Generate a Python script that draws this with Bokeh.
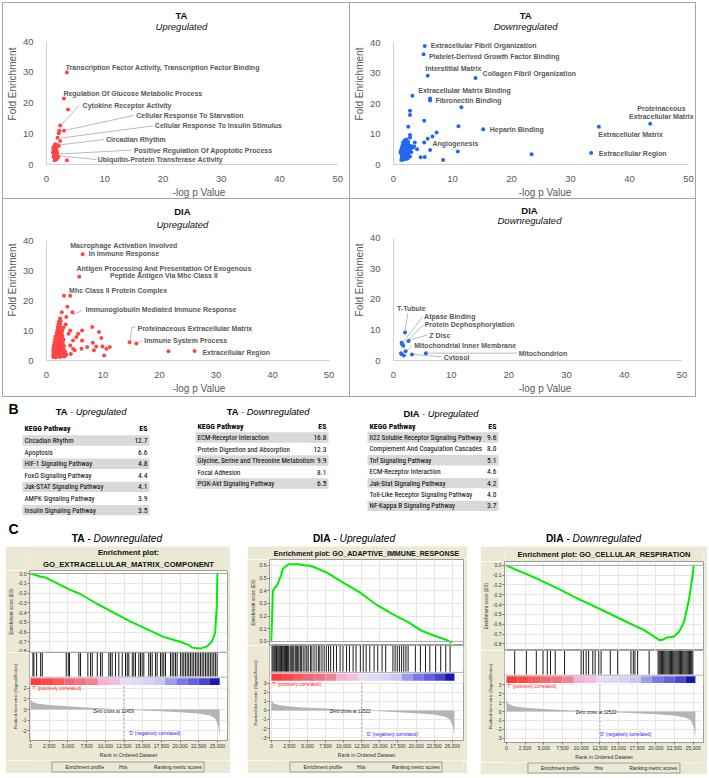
from bokeh.plotting import figure
from bokeh.layouts import column, row
from bokeh.models import (Range1d, FixedTicker, Span, Legend, LegendItem,
                          NumeralTickFormatter, Label, Spacer)
from bokeh.core.properties import value
from bokeh.embed import file_html
from bokeh.resources import INLINE

# ---------------------------------------------------------------- data
# Panel A: GO term scatter (-log p value, fold enrichment)
ta_up_pts = [(3.5, 30.0), (3.0, 21.5), (3.7, 17.9), (2.35, 12.7), (2.2, 11.0), (2.1, 10.2), (3.0, 11.0),
             (1.9, 8.7), (2.35, 7.7), (1.5, 6.6), (1.8, 6.4), (2.1, 6.0), (1.2, 5.6), (1.6, 5.2), (1.7, 4.8),
             (1.5, 4.4), (1.1, 4.0), (1.6, 3.8), (1.8, 3.5), (1.4, 3.3), (1.5, 3.0), (1.7, 2.8), (1.2, 2.6),
             (1.6, 2.4), (1.9, 2.2), (1.4, 2.0), (1.5, 1.8), (1.7, 1.6), (1.4, 1.4), (3.5, 1.4), (1.6, 5.8),
             (1.8, 4.1), (1.3, 3.1), (2.0, 2.5), (1.2, 5.0), (1.4, 6.2)]

ta_down_pts = [(5.3, 38.9), (5.1, 36.2), (5.8, 29.2), (13.9, 28.4), (3.2, 22.6), (6.2, 21.7), (6.2, 21.0),
               (2.8, 17.7), (2.8, 16.3), (11.5, 18.8), (5.2, 14.4), (2.5, 12.4), (11.0, 12.6), (15.2, 11.6),
               (34.8, 12.4), (43.5, 13.4), (7.3, 10.5), (6.6, 9.2), (5.8, 8.5), (5.2, 7.2), (3.6, 7.2),
               (2.8, 9.7), (2.8, 8.9), (4.0, 5.0), (6.2, 4.8), (10.9, 4.3), (23.4, 3.4), (33.5, 3.8),
               (4.6, 2.4), (5.3, 2.5), (8.4, 1.5),
               (1.2, 4.2), (1.3, 3.6), (1.4, 2.8), (1.5, 2.0), (1.6, 1.6), (1.7, 2.4), (1.8, 3.0), (1.9, 2.2),
               (2.0, 1.8), (2.1, 2.6), (2.2, 3.4), (2.3, 2.9), (2.4, 2.3), (2.5, 3.1), (1.3, 4.8), (1.5, 4.4),
               (1.7, 3.8), (1.9, 4.0), (2.1, 4.6), (2.3, 4.2), (2.5, 3.8), (2.7, 4.4), (3.0, 4.0), (1.4, 5.4),
               (1.6, 5.8), (1.8, 5.2), (2.0, 5.6), (2.2, 5.0), (2.4, 5.4), (2.6, 5.8), (2.9, 5.2), (3.3, 5.6),
               (1.2, 4.0), (1.5, 6.2), (1.8, 6.6), (2.1, 6.4), (2.4, 6.8), (2.7, 6.2), (3.1, 6.0), (1.6, 7.2),
               (1.9, 7.6), (2.2, 7.0), (2.5, 7.4), (1.4, 3.2), (1.7, 3.6), (2.0, 3.4), (2.3, 3.8), (1.5, 2.6),
               (1.8, 2.1), (2.1, 1.9), (1.3, 1.5), (1.6, 1.8), (2.0, 2.8), (2.4, 2.0), (2.8, 2.6), (1.9, 8.0),
               (2.2, 8.2), (3.5, 5.9)]

dia_up_pts = [(6.4, 35.4), (5.8, 27.9), (3.1, 21.6), (4.2, 21.6), (3.7, 17.9), (2.7, 16.1), (4.6, 16.1),
              (3.5, 14.5), (8.1, 11.2), (6.3, 10.0), (9.3, 9.5), (9.7, 7.5), (5.3, 7.8), (4.2, 10.0),
              (14.7, 6.1), (15.9, 5.7), (6.3, 6.7), (8.2, 5.9), (7.2, 4.5), (8.8, 4.7), (9.9, 4.7),
              (11.2, 4.5), (10.6, 3.9), (8.4, 3.4), (6.2, 3.9), (10.2, 1.7), (21.6, 3.1), (26.2, 3.2),
              (4.3, 2.2), (3.5, 1.9), (4.7, 3.9), (3.9, 8.9), (4.7, 6.7), (4.2, 5.0), (5.0, 3.4), (5.6, 8.9),
              (3.4, 12.0), (3.0, 11.0),
              (1.2, 1.2), (1.6, 1.1), (2.0, 1.3), (2.4, 1.2), (2.8, 1.4), (3.2, 1.3),
              (1.2, 2.0), (1.5, 2.1), (1.8, 1.9), (2.1, 2.2), (2.4, 2.0), (2.7, 2.1), (3.0, 2.3), (3.4, 2.0),
              (1.2, 3.0), (1.5, 2.9), (1.8, 3.1), (2.1, 3.0), (2.4, 3.2), (2.7, 2.9), (3.0, 3.1), (3.3, 3.0),
              (1.2, 4.0), (1.5, 4.1), (1.8, 3.9), (2.1, 4.0), (2.4, 4.2), (2.7, 4.0), (3.0, 3.9),
              (1.3, 5.0), (1.6, 5.1), (1.9, 4.9), (2.2, 5.0), (2.5, 5.2), (2.8, 5.0), (3.1, 4.8),
              (1.4, 6.0), (1.7, 6.1), (2.0, 5.9), (2.3, 6.0), (2.6, 6.2), (2.9, 6.0),
              (1.5, 7.0), (1.8, 7.1), (2.1, 6.9), (2.4, 7.0), (2.7, 7.2), (3.0, 7.0),
              (1.6, 8.0), (1.9, 8.1), (2.2, 7.9), (2.5, 8.0), (2.8, 8.2),
              (1.8, 9.0), (2.1, 9.1), (2.4, 8.9), (2.7, 9.0),
              (1.9, 10.0), (2.2, 10.1), (2.5, 9.9), (2.8, 10.0),
              (2.0, 11.0), (2.3, 11.1), (2.6, 10.9), (2.1, 12.0), (2.4, 12.1),
              (2.2, 13.0), (2.5, 13.1), (2.4, 14.0)]

dia_down_pts = [(2.0, 9.2), (1.4, 5.8), (1.5, 5.3), (1.7, 4.8), (2.6, 6.4), (2.1, 3.0), (1.3, 2.4),
                (1.4, 2.1), (1.8, 1.6), (3.2, 2.0), (5.6, 2.4)]

# GO term labels (text, -log p, fold enrichment) and leader lines
ta_up_labels = [("Transcription Factor Activity, Transcription Factor Binding", 3.3, 31.7, "left"),
                ("Regulation Of Glucose Metabolic Process", 2.9, 23.0, "left"),
                ("Cytokine Receptor Activity", 6.2, 19.2, "left"),
                ("Cellular Response To Starvation", 15.4, 16.0, "left"),
                ("Cellular Response To Insulin Stimulus", 18.6, 12.6, "left"),
                ("Circadian Rhythm", 10.2, 8.2, "left"),
                ("Positive Regulation Of Apoptotic Process", 15.0, 4.6, "left"),
                ("Ubiquitin-Protein Transferase Activity", 8.8, 1.5, "left")]
ta_up_leaders = [(5.6, 19.3, 2.4, 12.6), (15.0, 16.0, 2.6, 10.9), (18.3, 12.6, 2.35, 8.6),
                 (9.8, 8.1, 2.3, 6.4), (14.7, 4.7, 1.9, 3.4), (8.6, 1.6, 1.9, 2.9)]

ta_down_labels = [("Extracellular Fibril Organization", 6.3, 39.0, "left"),
                  ("Platelet-Derived Growth Factor Binding", 6.0, 35.5, "left"),
                  ("Interstitial Matrix", 5.4, 31.5, "left"),
                  ("Collagen Fibril Organization", 15.1, 29.9, "left"),
                  ("Extracellular Matrix Binding", 4.2, 24.3, "left"),
                  ("Fibronectin Binding", 7.1, 21.0, "left"),
                  ("Proteinaceous", 45.4, 18.3, "center"),
                  ("Extracellular Matrix", 45.4, 15.7, "center"),
                  ("Heparin Binding", 16.3, 11.6, "left"),
                  ("Extracellular Matrix", 34.7, 9.9, "left"),
                  ("Angiogenesis", 6.6, 6.9, "left"),
                  ("Extracellular Region", 34.8, 3.5, "left")]
ta_down_leaders = []

dia_up_labels = [("Macrophage Activation Involved", 13.7, 38.4, "center"),
                 ("In Immune Response", 13.7, 35.6, "center"),
                 ("Antigen Processing And Presentation Of Exogenous", 20.8, 30.8, "center"),
                 ("Peptide Antigen Via Mhc Class II", 20.8, 28.2, "center"),
                 ("Mhc Class II Protein Complex", 4.0, 23.4, "left"),
                 ("Immunoglobulin Mediated Immune Response", 6.9, 16.9, "left"),
                 ("Proteinaceous Extracellular Matrix", 16.1, 10.7, "left"),
                 ("Immune System Process", 17.3, 6.6, "left"),
                 ("Extracellular Region", 27.6, 2.8, "left")]
dia_up_leaders = [(6.4, 16.8, 4.8, 15.3), (15.8, 11.2, 15.1, 11.0), (15.1, 11.0, 14.8, 6.8),
                  (17.0, 6.6, 16.2, 6.0)]

dia_down_labels = [("T-Tubule", 0.6, 17.0, "left"),
                   ("Atpase Binding", 5.3, 14.3, "left"),
                   ("Protein Dephosphorylation", 5.4, 11.7, "left"),
                   ("Z Disc", 6.2, 8.3, "left"),
                   ("Mitochondrial Inner Membrane", 3.6, 4.8, "left"),
                   ("Mitochondrion", 21.7, 2.4, "left"),
                   ("Cytosol", 8.7, 1.1, "left")]
dia_down_leaders = [(2.5, 15.6, 2.0, 9.6), (5.0, 14.3, 1.7, 6.0), (5.2, 11.7, 1.9, 5.4), (5.8, 8.3, 2.6, 6.6),
                    (3.2, 4.8, 2.2, 3.2), (21.4, 2.4, 5.8, 2.4), (8.4, 1.2, 3.4, 2.0)]

x_ticks_A = [0, 10, 20, 30, 40, 50]
y_ticks_A = [0, 10, 20, 30, 40]

# Panel B: KEGG tables
t1_names = ["Circadian Rhythm", "Apoptosis", "HIF-1 Signaling Pathway", "FoxO Signaling Pathway",
            "Jak-STAT Signaling Pathway", "AMPK Signaling Pathway", "Insulin Signaling Pathway"]
t1_es = [12.7, 6.6, 4.8, 4.4, 4.1, 3.9, 3.5]
t2_names = ["ECM-Receptor Interaction", "Protein Digestion and Absorption",
            "Glycine, Serine and Threonine Metabolism", "Focal Adhesion", "PI3K-Akt Signaling Pathway"]
t2_es = [16.8, 12.3, 9.9, 8.1, 6.5]
t3_names = ["Il22 Soluble Receptor Signaling Pathway", "Complement And Coagulation Cascades",
            "Tnf Signaling Pathway", "ECM-Receptor Interaction", "Jak-Stat Signaling Pathway",
            "Toll-Like Receptor Signaling Pathway", "NF-Kappa B Signaling Pathway"]
t3_es = [9.6, 8.0, 5.1, 4.6, 4.2, 4.0, 3.7]

# Panel C: GSEA enrichment plots
rank_ticks = [0, 2500, 5000, 7500, 10000, 12500, 15000, 17500, 20000, 22500, 25000]

ecm_es_rank = [0, 1290, 1960, 3300, 5080, 6640, 8870, 11100, 13320, 15550, 17780, 20010, 21350, 21570,
               22680, 22900, 23570, 24240, 24690, 24910, 25000]
ecm_es = [0.0, -0.03, -0.04, -0.09, -0.16, -0.21, -0.31, -0.40, -0.49, -0.57, -0.65, -0.70, -0.74, -0.76,
          -0.77, -0.765, -0.75, -0.70, -0.61, -0.35, 0.0]
ecm_hits = [310, 440, 800, 1340, 1560, 4770, 5040, 5210, 6460, 6680, 7660, 8020, 8250, 8920, 9360, 9590,
            10470, 10700, 10920, 11360, 11800, 12260, 12700, 12930, 13140, 13600, 13810, 14040, 14480,
            14710, 14930, 15150, 15810, 16040, 16270, 16710, 16930, 17380, 17600, 17820, 18050, 18720,
            18940, 19160, 19390, 19610, 20050, 20280, 20500, 20720, 20950, 21160, 21390, 21610, 21830,
            22060, 22280, 22500, 22730, 22950, 23170, 23400, 23620, 23840, 24060, 24290, 24510, 24730, 24960]
ecm_met_rank = [0, 50, 300, 1000, 2500, 5000, 7500, 10000, 12459, 15000, 17500, 20000, 22500, 24000,
                24700, 25100, 25300]
ecm_met = [1.05, 0.9, 0.7, 0.55, 0.42, 0.3, 0.2, 0.1, 0.0, -0.08, -0.16, -0.25, -0.38, -0.55, -0.85, -1.5, -2.5]

air_es_rank = [0, 90, 220, 450, 890, 1120, 1340, 1560, 1920, 2460, 2900, 3800, 4690, 5130, 5800, 7810,
               10040, 12280, 14510, 16740, 18970, 20760, 22540, 24330, 24780, 25000]
air_es = [0.0, 0.16, 0.40, 0.42, 0.45, 0.49, 0.52, 0.57, 0.59, 0.61, 0.61, 0.61, 0.60, 0.60, 0.59, 0.54,
          0.46, 0.385, 0.29, 0.215, 0.15, 0.084, 0.045, 0.01, -0.008, 0.005]
air_hits = [100, 250, 400, 550, 700, 800, 950, 1100, 1250, 1400, 1500, 1650, 1800, 1950, 2100, 2250, 2400,
            2600, 2750, 2900, 3100, 3300, 3450, 3600, 3800, 4000, 4150, 4400, 4650, 4900, 5100, 5400, 5600,
            5900, 6200, 6500, 6700, 7000, 7300, 7600, 7900, 8200, 8600, 9000, 9500, 9900, 10400, 10800,
            11300, 11700, 12300, 12700, 13100, 13600, 14200, 14700, 15300, 15800, 16800, 17100, 17400,
            17700, 18000, 18300, 18600, 18900, 19900, 20600, 21300, 21900, 22700, 23400, 24100, 24700]
air_met_rank = [0, 50, 300, 1000, 2500, 5000, 7500, 10000, 12522, 15000, 17500, 20000, 22500, 24000,
                24700, 25100, 25300]
air_met = [1.3, 1.05, 0.8, 0.6, 0.42, 0.3, 0.2, 0.1, 0.0, -0.1, -0.2, -0.3, -0.45, -0.7, -1.0, -1.8, -2.8]

resp_es_rank = [0, 1110, 3330, 6440, 9550, 12660, 15770, 18430, 20430, 20870, 21540, 22430, 23090, 23760,
                24420, 24870, 25090]
resp_es = [0.0, -0.04, -0.11, -0.22, -0.34, -0.45, -0.565, -0.66, -0.76, -0.76, -0.735, -0.725, -0.68,
           -0.58, -0.355, -0.13, 0.0]
resp_hits = [1100, 2670, 4000, 4900, 5470, 5900, 6530, 7780, 10000, 10300, 10670, 11000, 11560, 11870,
             12360, 12670, 13900, 14900, 16670, 16980, 17200, 17560, 19100, 20300, 20450, 20600, 20750,
             20900, 21050, 21200, 21350, 21500, 21650, 21800, 21950, 22100, 22250, 22400, 22550, 22700,
             22850, 23000, 23150, 23300, 23450, 23600, 23750, 23900, 24050, 24200, 24350, 24500, 24650,
             24800, 24950]
resp_met_rank = [0, 50, 300, 1000, 2500, 5000, 7500, 10000, 12522, 15000, 17500, 20000, 22500, 24000,
                 24700, 25100, 25300]
resp_met = [1.5, 1.15, 0.85, 0.6, 0.42, 0.28, 0.18, 0.09, 0.0, -0.1, -0.2, -0.3, -0.45, -0.7, -1.0, -1.8, -2.9]

band_edges = [0, 1500, 3000, 4500, 6000, 7500, 9000, 10500, 12000, 13500, 15000, 16500, 18000, 19500,
              21000, 22500, 24000, 25300]
band_colors = ["#ff3c3c", "#ff4848", "#ff5858", "#f26a7a", "#f27484", "#f28292", "#f3b0d6", "#f2bede",
               "#e4dcf2", "#dcdaf4", "#d4d4f4", "#c8c8f2", "#9c9cee", "#7878e8", "#6060e0", "#4646d0",
               "#1818b0"]

# ---------------------------------------------------------------- styling
S = 1.0


def P(v):
    return int(round(v * S))


def F(v):
    return "%.2fpx" % (v * S)


SANS = "Liberation Sans"
NARROW = "Roboto Condensed"
GREY = "#595959"
RED = "#ff4646"
BLUE = "#2468f0"
BEIGE = "#ebe8d4"
BORDER = "1px solid #a6a6a6"
NB = "\u00a0"


def blank(p, bg="white"):
    p.grid.visible = False
    p.outline_line_color = None
    p.background_fill_color = bg
    p.border_fill_color = bg


# ---------------------------------------------------------------- panel A
def quadrant(q):
    w, h, x0, x50, y0, y40 = q["w"], q["h"], q["x0"], q["x50"], q["y0"], q["y40"]
    xmax = 50.0 * (w - x0) / (x50 - x0)
    ymax = 40.0 * y0 / (y0 - y40)
    p = figure(width=P(w), height=P(h), x_range=Range1d(0, xmax), y_range=Range1d(0, ymax),
               output_backend="svg", toolbar_location=None,
               min_border_left=P(x0), min_border_right=0, min_border_top=0,
               min_border_bottom=P(h - y0), styles=q["css"])
    blank(p)
    for ax, lab, ticks, bnd, so in ((p.xaxis[0], "-log p Value", x_ticks_A, (0, 50), 5),
                                     (p.yaxis[0], "Fold Enrichment", y_ticks_A, (0, 40), 7)):
        ax.ticker = FixedTicker(ticks=ticks)
        ax.bounds = bnd
        ax.axis_line_color = "#d0d0d0"
        ax.major_tick_line_color = None
        ax.minor_tick_line_color = None
        ax.major_label_text_font = SANS
        ax.major_label_text_font_size = F(9.5)
        ax.major_label_text_color = GREY
        ax.major_label_standoff = P(so)
        ax.axis_label = lab
        ax.axis_label_text_font = SANS
        ax.axis_label_text_font_size = F(10)
        ax.axis_label_text_font_style = "normal"
        ax.axis_label_text_color = GREY
        ax.axis_label_standoff = 2
    if q["leaders"]:
        p.segment(x0=[l[0] for l in q["leaders"]], y0=[l[1] for l in q["leaders"]],
                  x1=[l[2] for l in q["leaders"]], y1=[l[3] for l in q["leaders"]],
                  line_color="#a9a9a9", line_width=0.8)
    pts = q["pts"]
    p.scatter(x=[a for a, b in pts], y=[b for a, b in pts], size=P(4.2), fill_color=q["color"],
              line_color=None)
    for align in ("left", "center"):
        sel = [l for l in q["labels"] if l[3] == align]
        if sel:
            p.text(x=[l[1] for l in sel], y=[l[2] for l in sel], text=[l[0] for l in sel],
                   text_font=value(SANS), text_font_size=F(7.0), text_font_style="bold",
                   text_color=GREY, text_align=align, text_baseline="middle")
    xt = 50.0 * (q["tc"] - x0) / (x50 - x0)
    for txt_, ty, style in ((q["head"], q["ty1"], "bold"), (q["sub"], q["ty2"], "italic")):
        p.add_layout(Label(x=xt, y=40.0 * (y0 - ty) / (y0 - y40), text=txt_, text_align="center",
                           text_baseline="middle", text_font=SANS, text_font_size=F(9.5),
                           text_font_style=style, text_color="#111111"))
    return p


tl = quadrant(dict(w=348, h=197, x0=36, x50=334, y0=164, y40=39, tc=174, ty1=12, ty2=23,
                   head="TA", sub="Upregulated", pts=ta_up_pts, color=RED, labels=ta_up_labels,
                   leaders=ta_up_leaders, css={"border": BORDER}))
tr = quadrant(dict(w=346, h=197, x0=41, x50=338, y0=164, y40=40, tc=174, ty1=12, ty2=23,
                   head="TA", sub="Downregulated", pts=ta_down_pts, color=BLUE, labels=ta_down_labels,
                   leaders=ta_down_leaders,
                   css={"border-top": BORDER, "border-right": BORDER, "border-bottom": BORDER}))
bl = quadrant(dict(w=348, h=198, x0=36, x50=325, y0=161, y40=41, tc=175, ty1=12, ty2=25,
                   head="DIA", sub="Upregulated", pts=dia_up_pts, color=RED, labels=dia_up_labels,
                   leaders=dia_up_leaders,
                   css={"border-left": BORDER, "border-right": BORDER, "border-bottom": BORDER}))
br = quadrant(dict(w=346, h=198, x0=34, x50=331, y0=166, y40=40, tc=174, ty1=11, ty2=22,
                   head="DIA", sub="Downregulated", pts=dia_down_pts, color=BLUE, labels=dia_down_labels,
                   leaders=dia_down_leaders,
                   css={"border-right": BORDER, "border-bottom": BORDER}))

# ---------------------------------------------------------------- panel B (+ C headings)
bc = figure(width=P(709), height=P(149), x_range=Range1d(0, 709), y_range=Range1d(549, 400),
            output_backend="svg", toolbar_location=None, min_border=0,
            x_axis_location=None, y_axis_location=None)
blank(bc)


def txt(fig, x, y, s, size, style="normal", align="left", font=SANS, color="#111111"):
    fig.text(x=[x], y=[y], text=[s], text_font=value(font), text_font_size=F(size),
             text_font_style=style, text_align=align, text_baseline="middle", text_color=color)


def heading(fig, split, y, bold, rest, size):
    txt(fig, split, y, bold, size, "bold", "right", color="#000000")
    txt(fig, split, y, NB + "-" + NB + rest, size, "italic", "left", color="#000000")


def table(names, es, x0, x1, hy, ry, step, nx, ex):
    ys = [ry + i * step for i in range(len(names))]
    bands = ys[0::2]
    bc.quad(left=x0, right=x1, top=[y - 5.2 for y in bands], bottom=[y + 5.2 for y in bands],
            fill_color="#d9d9d9", line_color=None)
    txt(bc, nx, hy, "KEGG Pathway", 7.9, "bold", font=NARROW, color="#000000")
    txt(bc, ex, hy, "ES", 7.9, "bold", "right", font=NARROW, color="#000000")
    bc.text(x=nx, y=ys, text=names, text_font=value(NARROW), text_font_size=F(7.1),
            text_align="left", text_baseline="middle", text_color="#000000")
    bc.text(x=ex, y=ys, text=["%.1f" % v for v in es], text_font=value(NARROW), text_font_size=F(7.5),
            text_align="right", text_baseline="middle", text_color="#000000")


txt(bc, 8, 411, "B", 14, "bold", color="#000000")
heading(bc, 67, 414, "TA", "Upregulated", 9.3)
heading(bc, 238, 414, "TA", "Downregulated", 9.3)
heading(bc, 419, 416, "DIA", "Upregulated", 9.3)
table(t1_names, t1_es, 22, 149, 431, 443, 11.6, 24, 147)
table(t2_names, t2_es, 195, 328, 429, 440, 11.5, 197, 326)
table(t3_names, t3_es, 367, 498, 429, 440, 11.4, 369, 496)
txt(bc, 8, 531, "C", 14, "bold", color="#000000")
heading(bc, 84, 541, "TA", "Downregulated", 10.2)
heading(bc, 330, 541, "DIA", "Upregulated", 10.2)
heading(bc, 563, 541, "DIA", "Downregulated", 10.2)


# ---------------------------------------------------------------- panel C
def small_axis(ax, label, ticks, fmt, lab_size):
    ax.ticker = FixedTicker(ticks=ticks)
    ax.formatter = NumeralTickFormatter(format=fmt)
    ax.axis_line_color = "#9a9a9a"
    ax.major_tick_line_color = "#777777"
    ax.major_tick_out = 2
    ax.major_tick_in = 0
    ax.minor_tick_line_color = None
    ax.major_label_text_font = SANS
    ax.major_label_text_font_size = F(5)
    ax.major_label_text_color = "#333333"
    ax.major_label_standoff = 1
    ax.axis_label = label
    ax.axis_label_text_font = SANS
    ax.axis_label_text_font_size = F(lab_size)
    ax.axis_label_text_font_style = "normal"
    ax.axis_label_text_color = "#333333"
    ax.axis_label_standoff = 1


def gsea(c):
    w = c["w"]
    L, R = P(c["left"]), P(c["right"])
    xr = Range1d(*c["xr"])
    common = dict(output_backend="svg", toolbar_location=None)

    # title strip
    tf = figure(width=P(w), height=P(c["title_h"]), x_range=Range1d(0, w),
                y_range=Range1d(c["title_h"], 0), min_border=0,
                x_axis_location=None, y_axis_location=None, **common)
    blank(tf, BEIGE)
    for line, ty in zip(c["title"], c["title_ys"]):
        tf.add_layout(Label(x=w / 2.0, y=ty, text=line, text_align="center", text_baseline="middle",
                            text_font=SANS, text_font_style="bold", text_font_size=F(c["title_fs"]),
                            text_color="#111111"))

    # running enrichment score
    es = figure(width=P(w), height=P(c["es_h"]), x_range=xr, y_range=Range1d(*c["es_rng"]),
                min_border_left=L, min_border_right=R, min_border_top=0, min_border_bottom=0,
                x_axis_location=None, **common)
    es.border_fill_color = BEIGE
    es.outline_line_color = "#9a9a9a"
    es.xgrid.ticker = FixedTicker(ticks=rank_ticks)
    es.ygrid.ticker = FixedTicker(ticks=c["es_ticks"])
    es.grid.grid_line_color = "#e6e6e6"
    small_axis(es.yaxis[0], "Enrichment score (ES)", c["es_ticks"], "0.0", 4.6)
    es.add_layout(Span(location=0, dimension="width", line_color="#a8a8a8", line_width=1))
    es.line(x=c["es_rank"], y=c["es"], line_color="#00ee00", line_width=2)

    # hits + colour band (top strip) and ranked list metric (lower part) in one frame
    Hh = c["mid_h"]
    Hm = c["met_h"] - 17
    lo, hi = c["met_rng"]
    top = hi + Hh * (hi - lo) / Hm
    mf = figure(width=P(w), height=P(Hh + c["met_h"]), x_range=xr, y_range=Range1d(lo, top),
                min_border_left=L, min_border_right=R, min_border_top=0,
                min_border_bottom=P(17), **common)
    mf.extra_y_ranges = {"hb": Range1d(-float(Hm) / Hh, 1.0)}
    mf.border_fill_color = BEIGE
    mf.outline_line_color = "#9a9a9a"
    mf.xgrid.ticker = FixedTicker(ticks=rank_ticks)
    mf.ygrid.ticker = FixedTicker(ticks=c["met_ticks"])
    mf.grid.grid_line_color = "#e6e6e6"
    small_axis(mf.xaxis[0], "Rank in Ordered Dataset", rank_ticks, "0,0", 5.2)
    small_axis(mf.yaxis[0], "Ranked list metric (Signal2Noise)", c["met_ticks"], "0", 4.4)
    mf.yaxis[0].bounds = (lo, hi)
    mf.quad(left=c["xr"][0], right=c["xr"][1], bottom=0.0, top=1.0, y_range_name="hb",
            fill_color="white", line_color=None)
    mf.segment(x0=c["hits"], y0=0.29, x1=c["hits"], y1=1.0, y_range_name="hb",
               line_color="#000000", line_width=1, line_alpha=0.9)
    mf.quad(left=band_edges[:-1], right=band_edges[1:], bottom=0.04, top=0.24, y_range_name="hb",
            fill_color=band_colors, line_color=None)
    mf.segment(x0=[c["xr"][0]], y0=[0.27], x1=[c["xr"][1]], y1=[0.27], y_range_name="hb",
               line_color="#b0b0b0", line_width=1)
    mf.segment(x0=[c["xr"][0]], y0=[1.0], x1=[c["xr"][1]], y1=[1.0], y_range_name="hb",
               line_color="#9a9a9a", line_width=1)
    mf.varea(x=c["met_rank"], y1=0, y2=c["met"], fill_color="#b4b4b4")
    mf.segment(x0=[c["zero"]], y0=[lo], x1=[c["zero"]], y1=[hi], line_color="#a0a0a0",
               line_dash="2 2", line_width=1)
    mf.add_layout(Label(x=c["xr"][0] + 300, y=hi, text="'T' (positively correlated)",
                        text_baseline="top", text_font=SANS, text_font_size=F(4.6), text_color="#ff2020"))
    mf.add_layout(Label(x=c["zero_lab"][0], y=c["zero_lab"][1], text="Zero cross at %d" % c["zero"],
                        text_align="center", text_baseline="middle", text_font=SANS,
                        text_font_size=F(4.6), text_color="#222222"))
    mf.add_layout(Label(x=c["d_lab"][0], y=c["d_lab"][1], text="'D' (negatively correlated)",
                        text_baseline="middle", text_font=SANS, text_font_size=F(4.6),
                        text_color="#2020ff"))

    # legend strip
    lf = figure(width=P(w), height=P(c["leg_h"]), x_range=Range1d(0, 1), y_range=Range1d(0, 1),
                min_border=0, x_axis_location=None, y_axis_location=None, **common)
    blank(lf, BEIGE)
    r_es = lf.line(x=[], y=[], line_color="#00ee00", line_width=2)
    r_hit = lf.line(x=[], y=[], line_color="#000000", line_width=1)
    r_met = lf.line(x=[], y=[], line_color="#c4c4c4", line_width=2)
    leg = Legend(items=[LegendItem(label="Enrichment profile", renderers=[r_es]),
                        LegendItem(label="Hits", renderers=[r_hit]),
                        LegendItem(label="Ranking metric scores", renderers=[r_met])],
                 orientation="horizontal", location="center",
                 label_text_font=SANS, label_text_font_size=F(4.8), label_text_color="#222222",
                 glyph_width=P(9), glyph_height=P(5), label_height=P(5), label_standoff=2,
                 spacing=P(4), padding=2, margin=0, border_line_color="#555555",
                 background_fill_alpha=0)
    lf.add_layout(leg)
    return column(tf, es, mf, lf, spacing=0)


g1 = gsea(dict(w=225, left=24, right=3, xr=(-150, 26350),
               title=["Enrichment plot:", "GO_EXTRACELLULAR_MATRIX_COMPONENT"], title_h=24,
               title_ys=[6, 18], title_fs=7.7,
               es_h=82, es_rng=(-0.81, 0.031), es_ticks=[-0.8, -0.7, -0.6, -0.5, -0.4, -0.3, -0.2, -0.1, 0.0],
               es_rank=ecm_es_rank, es=ecm_es, hits=ecm_hits, mid_h=35,
               met_h=73, leg_h=13, met_rng=(-2.91, 2.18), met_ticks=[-2, -1, 0, 1, 2],
               met_rank=ecm_met_rank, met=ecm_met, zero=12459, zero_lab=(11100, -0.15),
               d_lab=(13100, -2.27)))
g2 = gsea(dict(w=220, left=19, right=4, xr=(-250, 26550),
               title=["Enrichment plot: GO_ADAPTIVE_IMMUNE_RESPONSE"], title_h=13, title_ys=[7],
               title_fs=7.1,
               es_h=86, es_rng=(-0.032, 0.647), es_ticks=[0.0, 0.1, 0.2, 0.3, 0.4, 0.5, 0.6],
               es_rank=air_es_rank, es=air_es, hits=air_hits, mid_h=38,
               met_h=77, leg_h=13, met_rng=(-3.32, 3.1), met_ticks=[-3, -2, -1, 0, 1, 2, 3],
               met_rank=air_met_rank, met=air_met, zero=12522, zero_lab=(10900, -0.1),
               d_lab=(13100, -2.63)))
g3 = gsea(dict(w=227, left=23, right=4, xr=(-260, 26380),
               title=["Enrichment plot: GO_CELLULAR_RESPIRATION"], title_h=15, title_ys=[8],
               title_fs=7.5,
               es_h=89, es_rng=(-0.868, 0.039), es_ticks=[-0.8, -0.7, -0.6, -0.5, -0.4, -0.3, -0.2, -0.1, 0.0],
               es_rank=resp_es_rank, es=resp_es, hits=resp_hits, mid_h=35,
               met_h=77, leg_h=12, met_rng=(-3.47, 3.05), met_ticks=[-3, -2, -1, 0, 1, 2, 3],
               met_rank=resp_met_rank, met=resp_met, zero=12522, zero_lab=(12000, -0.1),
               d_lab=(12440, -2.6)))

gs_row = row(Spacer(width=P(5), height=10), g1, Spacer(width=P(17), height=10), g2,
             Spacer(width=P(13), height=10), g3, spacing=0)

layout = column(Spacer(width=10, height=2),
                row(Spacer(width=2, height=10), tl, tr, spacing=0),
                row(Spacer(width=2, height=10), bl, br, spacing=0),
                bc, gs_row, spacing=0)

open("out.html", "w").write(file_html(layout, INLINE, "Figure"))
